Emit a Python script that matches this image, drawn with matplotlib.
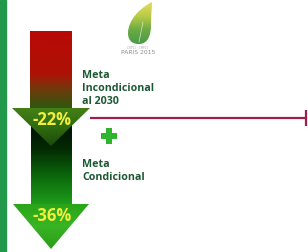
import numpy as np
import matplotlib.pyplot as plt
from matplotlib.path import Path
from matplotlib.patches import PathPatch, Polygon, Rectangle
from matplotlib.colors import LinearSegmentedColormap

# datos del grafico
metas = ['Meta\nIncondicional\nal 2030', 'Meta\nCondicional']
reducciones = [-22, -36]
etiquetas = [f'{v}%' for v in reducciones]

W, H = 308, 252
fig = plt.figure(figsize=(W / 100, H / 100), dpi=100)
ax = fig.add_axes([0, 0, 1, 1])
ax.set_axis_off()


def degradado(ax, verts, colores, y0, y1, z):
    # poligono relleno con degradado vertical (y0 arriba, y1 abajo)
    patch = Polygon(verts, closed=True, facecolor='none', edgecolor='none')
    ax.add_patch(patch)
    xs = [v[0] for v in verts]
    cmap = LinearSegmentedColormap.from_list('g', colores)
    grad = np.linspace(0, 1, 256).reshape(-1, 1)
    im = ax.imshow(grad, cmap=cmap, aspect='auto', origin='upper',
                   extent=(min(xs), max(xs), y1, y0), zorder=z,
                   interpolation='bilinear')
    im.set_clip_path(patch)


# barra verde del borde izquierdo
ax.add_patch(Rectangle((0, 0), 6, H, color='#22994a', zorder=1))

# flecha inferior (meta condicional): cuerpo y punta
degradado(ax, [(31, 125), (72, 125), (72, 205), (31, 205)],
          [(0, '#021202'), (0.3, '#032a03'), (0.65, '#0b6a0b'), (1, '#1f9e1c')],
          125, 205, 2)
degradado(ax, [(13, 204), (89, 204), (51, 249)],
          [(0, '#2aa51a'), (0.5, '#38b424'), (1, '#2a9c18')],
          204, 249, 3)

# flecha superior (meta incondicional)
degradado(ax, [(30, 31), (72, 31), (72, 109), (30, 109)],
          [(0, '#b80a06'), (0.55, '#ad1206'), (0.75, '#6e3a0c'), (1, '#2c5a0e')],
          31, 109, 4)
degradado(ax, [(12, 108), (90, 108), (51, 146)],
          [(0, '#447f16'), (0.5, '#2f6c10'), (1, '#1c4a0a')],
          108, 146, 5)

# etiquetas de porcentaje
for y, txt in zip([120, 216], etiquetas):
    ax.text(52, y, txt, color='#f0f03c', fontsize=12, fontweight='bold',
            ha='center', va='center', zorder=6, family='Open Sans')

# textos de las metas
for y, txt in zip([70, 159], metas):
    ax.text(82, y, txt, color='#1b5834', fontsize=7.7, fontweight='bold',
            ha='left', va='top', linespacing=1.22, zorder=6, family='Open Sans')

# signo mas
ax.plot([109], [136], marker='P', markersize=12, color='#2db52d',
        markeredgewidth=0, zorder=6)

# linea granate con tope
ax.plot([90, 306], [118, 118], color='#9e1f4e', lw=1.6, zorder=6,
        solid_capstyle='butt')
ax.plot([306, 306], [110, 126], color='#9e1f4e', lw=1.6, zorder=6,
        solid_capstyle='butt')

# logo Paris 2015 (hoja)
hoja = Path([(152, 2), (140, 8), (128, 20), (128, 33),
             (128, 42), (134, 44), (139, 44),
             (148, 44), (151, 35), (151, 25),
             (151, 14), (152, 8), (152, 2)],
            [Path.MOVETO, Path.CURVE4, Path.CURVE4, Path.CURVE4,
             Path.CURVE4, Path.CURVE4, Path.CURVE4,
             Path.CURVE4, Path.CURVE4, Path.CURVE4,
             Path.CURVE4, Path.CURVE4, Path.CURVE4])
pp = PathPatch(hoja, facecolor='none', edgecolor='none')
ax.add_patch(pp)
cmap_h = LinearSegmentedColormap.from_list('h', ['#e4dc5a', '#b8cc48', '#6aaa44', '#4a9a48'])
im = ax.imshow(np.linspace(0, 1, 64).reshape(-1, 1), cmap=cmap_h, aspect='auto',
               origin='upper', extent=(127, 153, 44, 2), zorder=3)
im.set_clip_path(pp)
ax.plot([139, 141, 143], [42, 32, 22], color='white', lw=0.5, alpha=0.7, zorder=4)
ax.text(138, 48, 'COP21 · CMP11', color='#aaaaaa', fontsize=2, ha='center', va='center')
ax.text(138, 52.5, 'PARIS 2015', color='#8a8a8a', fontsize=4.3, ha='center', va='center')

ax.set_xlim(0, W)
ax.set_ylim(H, 0)
fig.savefig('out.png', dpi=100, facecolor='white')
